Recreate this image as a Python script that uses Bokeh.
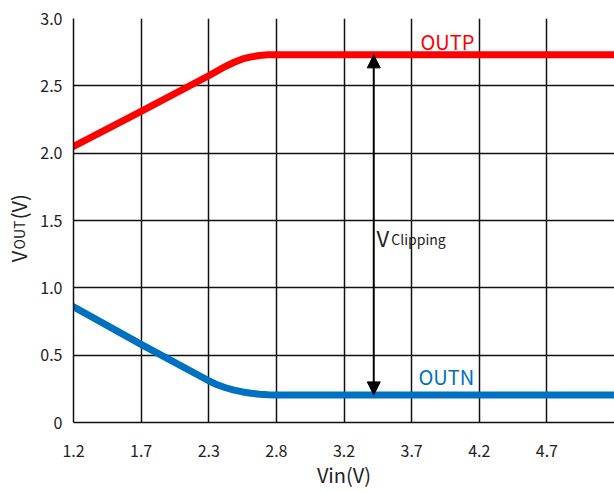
import math
from bokeh.plotting import figure
from bokeh.layouts import row
from bokeh.models import FixedTicker, Range1d, Label, Arrow, NormalHead
from bokeh.core.properties import value
from bokeh.embed import file_html
from bokeh.resources import INLINE

# ---- data ----
vin_labels = ["1.2", "1.7", "2.3", "2.8", "3.2", "3.7", "4.2", "4.7"]
y_ticks = [0, 0.5, 1.0, 1.5, 2.0, 2.5, 3.0]
y_tick_labels = ["0", "0.5", "1.0", "1.5", "2.0", "2.5", "3.0"]
# positions along the evenly spaced Vin axis (in tick steps)
curve_pos = [0, 1, 2, 2.125, 2.25, 2.375, 2.5, 2.625, 2.75, 2.875, 3, 4, 5, 6, 7, 8]
outp = [2.05, 2.31, 2.575, 2.61, 2.645, 2.675, 2.70, 2.715, 2.725, 2.73, 2.73,
        2.73, 2.73, 2.73, 2.73, 2.73]
outn = [0.86, 0.58, 0.31, 0.28, 0.258, 0.24, 0.227, 0.217, 0.21, 0.206, 0.205,
        0.205, 0.205, 0.205, 0.205, 0.205]
clip_pos = 4.44  # where the clipping arrow stands
y_title_parts = ["V", "OUT", "(V)"]

FONT = "Noto Sans CJK JP"
RED = "#FF0000"
BLUE = "#0070C0"
TXT = "#222222"
W, H, LEFT_W = 614, 491, 35

y_rng = Range1d(0, 3.0)

# ---- narrow strip carrying the rotated y-axis title (shares the y scale) ----
t = figure(width=LEFT_W, height=H, output_backend="svg", toolbar_location=None,
           x_range=Range1d(0, LEFT_W), y_range=y_rng,
           x_axis_type=None, y_axis_type=None, min_border=0)
t.outline_line_color = None
t.grid.visible = False
for txt, yy, fs in zip(y_title_parts, [1.19, 1.285, 1.51], ["20px", "14px", "20px"]):
    t.text(x=[18], y=[yy], text=[txt], angle=math.pi / 2,
           text_font=value(FONT), text_font_size=value(fs), text_color=TXT,
           text_baseline="alphabetic", text_align="left")

# ---- main chart ----
p = figure(width=W - LEFT_W, height=H, output_backend="svg", toolbar_location=None,
           x_range=Range1d(0, 8), y_range=y_rng,
           min_border_left=73 - LEFT_W, min_border_right=0, min_border_top=18,
           min_border_bottom=40)
p.outline_line_color = None

p.xaxis.ticker = FixedTicker(ticks=list(range(len(vin_labels))))
p.xaxis.major_label_overrides = {i: s for i, s in enumerate(vin_labels)}
p.yaxis.ticker = FixedTicker(ticks=y_ticks)
p.yaxis.major_label_overrides = {tk: s for tk, s in zip(y_ticks, y_tick_labels)}

for ax in (p.xaxis[0], p.yaxis[0]):
    ax.axis_line_color = "#111111"
    ax.axis_line_width = 1.5
    ax.major_tick_line_color = None
    ax.minor_tick_line_color = None
    ax.major_tick_out = 0
    ax.major_tick_in = 0
    ax.minor_tick_out = 0
    ax.major_label_text_font = FONT
    ax.major_label_text_font_size = "16px"
    ax.major_label_text_color = TXT
p.xaxis.major_label_standoff = 22
p.yaxis.major_label_standoff = 11

p.xaxis.axis_label = "Vin(V)"
p.xaxis.axis_label_text_font = FONT
p.xaxis.axis_label_text_font_size = "20px"
p.xaxis.axis_label_text_font_style = "normal"
p.xaxis.axis_label_text_color = TXT
p.xaxis.axis_label_standoff = 0

p.xgrid.grid_line_color = "#111111"
p.ygrid.grid_line_color = "#111111"
p.xgrid.grid_line_width = 1.5
p.ygrid.grid_line_width = 1.5

p.line(curve_pos, outp, line_color=RED, line_width=7, line_cap="round", line_join="round")
p.line(curve_pos, outn, line_color=BLUE, line_width=7, line_cap="round", line_join="round")

p.add_layout(Arrow(x_start=clip_pos, y_start=outn[-1], x_end=clip_pos, y_end=outp[-1],
                   line_color="black", line_width=2,
                   start=NormalHead(size=13, fill_color="black", line_color="black"),
                   end=NormalHead(size=13, fill_color="black", line_color="black")))

def lab(x, y, text, size, color=TXT):
    p.add_layout(Label(x=x, y=y, text=text, text_font=FONT, text_font_size=size,
                       text_color=color, text_baseline="alphabetic"))

lab(5.13, 2.83, "OUTP", "20px", RED)
lab(5.10, 0.345, "OUTN", "20px", BLUE)
lab(4.48, 1.38, "V", "22px")
lab(4.70, 1.365, "Clipping", "14px")

layout = row(t, p, spacing=0)
open("out.html", "w").write(file_html(layout, INLINE))
